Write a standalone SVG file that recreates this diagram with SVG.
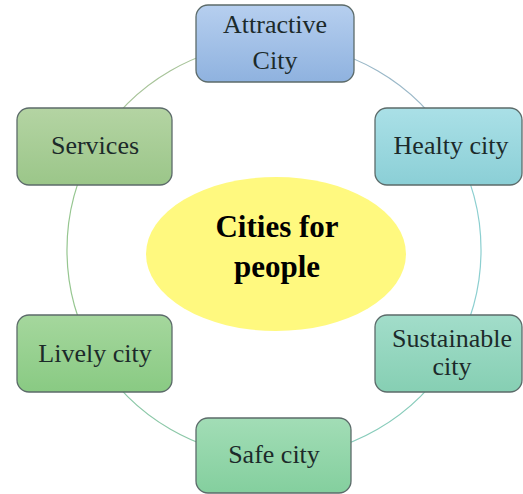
<svg xmlns="http://www.w3.org/2000/svg" width="523" height="494" viewBox="0 0 523 494">
<defs>
<linearGradient id="gA" x1="0" y1="0" x2="0" y2="1"><stop offset="0" stop-color="#b6cfef"/><stop offset="1" stop-color="#8fb2df"/></linearGradient>
<linearGradient id="gH" x1="0" y1="0" x2="0" y2="1"><stop offset="0" stop-color="#aae0e7"/><stop offset="1" stop-color="#8bcfd6"/></linearGradient>
<linearGradient id="gSe" x1="0" y1="0" x2="0" y2="1"><stop offset="0" stop-color="#b4d4a3"/><stop offset="1" stop-color="#9bc689"/></linearGradient>
<linearGradient id="gL" x1="0" y1="0" x2="0" y2="1"><stop offset="0" stop-color="#a5d79d"/><stop offset="1" stop-color="#89ca83"/></linearGradient>
<linearGradient id="gSa" x1="0" y1="0" x2="0" y2="1"><stop offset="0" stop-color="#a2ddb6"/><stop offset="1" stop-color="#84cf9e"/></linearGradient>
<linearGradient id="gSu" x1="0" y1="0" x2="0" y2="1"><stop offset="0" stop-color="#a2ddca"/><stop offset="1" stop-color="#86cfb3"/></linearGradient>
</defs>
<style>
.box{stroke:#5c6b6a;stroke-width:1.3}
.lbl{font-family:"Liberation Serif","Times New Roman",serif;font-size:26px;fill:#1c2a2a;text-anchor:middle}
.ctr{font-family:"Liberation Serif","Times New Roman",serif;font-size:31px;font-weight:bold;fill:#000;text-anchor:middle}
.arc{fill:none;stroke-width:1.2}
</style>
<rect width="523" height="494" fill="#fff"/>
<g id="connectors">
<path class="arc" stroke="#9ab8c8" d="M274,43 A207,207 0 0 1 453.3,146.5"/>
<path class="arc" stroke="#8ccfd0" d="M453.3,146.5 A207,207 0 0 1 453.3,353.5"/>
<path class="arc" stroke="#88ccbb" d="M453.3,353.5 A207,207 0 0 1 274,457"/>
<path class="arc" stroke="#8cc8a8" d="M274,457 A207,207 0 0 1 94.7,353.5"/>
<path class="arc" stroke="#96c690" d="M94.7,353.5 A207,207 0 0 1 94.7,146.5"/>
<path class="arc" stroke="#a8c49a" d="M94.7,146.5 A207,207 0 0 1 274,43"/>
</g>
<g id="center">
<ellipse cx="276" cy="254" rx="130" ry="77" fill="#fff97f"/>
<text class="ctr" x="277" y="237">Cities for</text>
<text class="ctr" x="277" y="277">people</text>
</g>
<g id="attractive">
<rect class="box" x="196" y="5" width="158" height="77" rx="12" fill="url(#gA)"/>
<text class="lbl" x="275" y="33">Attractive</text>
<text class="lbl" x="275" y="69">City</text>
</g>
<g id="healty">
<rect class="box" x="375" y="108" width="147" height="77" rx="12" fill="url(#gH)"/>
<text class="lbl" x="451" y="154">Healty city</text>
</g>
<g id="sustainable">
<rect class="box" x="375" y="315" width="147" height="77" rx="12" fill="url(#gSu)"/>
<text class="lbl" x="452" y="347">Sustainable</text>
<text class="lbl" x="452" y="375">city</text>
</g>
<g id="safe">
<rect class="box" x="196" y="418" width="155" height="75" rx="12" fill="url(#gSa)"/>
<text class="lbl" x="274" y="463">Safe city</text>
</g>
<g id="lively">
<rect class="box" x="17" y="315" width="155" height="77" rx="12" fill="url(#gL)"/>
<text class="lbl" x="95" y="362">Lively city</text>
</g>
<g id="services">
<rect class="box" x="17" y="108" width="155" height="77" rx="12" fill="url(#gSe)"/>
<text class="lbl" x="95" y="154">Services</text>
</g>
</svg>
